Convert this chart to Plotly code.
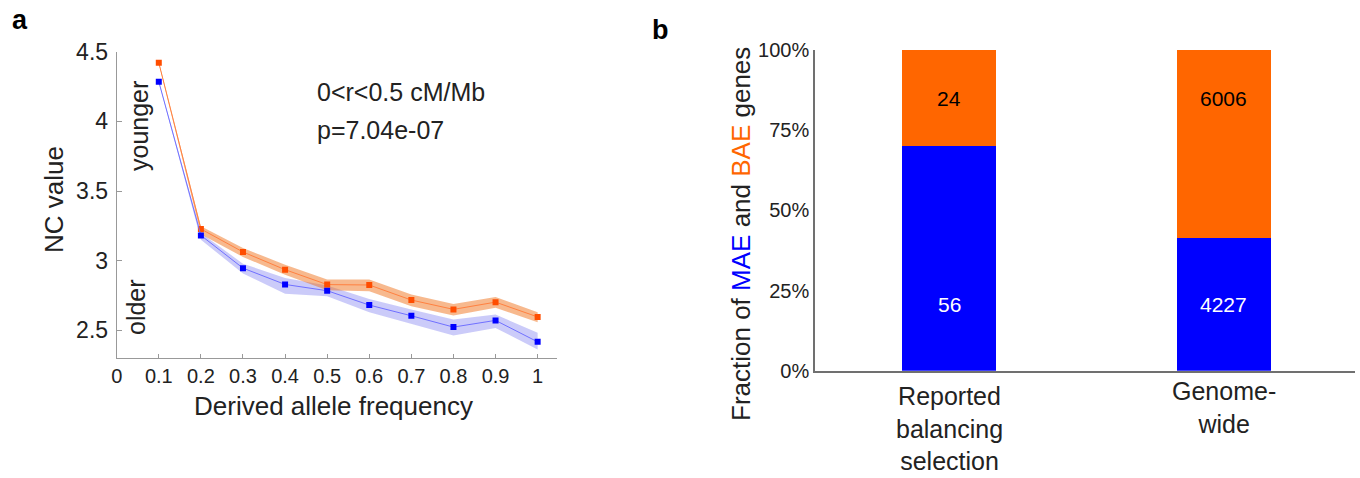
import plotly.graph_objects as go

# ---------------- data: panel a ----------------
daf = [0.1, 0.2, 0.3, 0.4, 0.5, 0.6, 0.7, 0.8, 0.9, 1.0]
bae_mean = [4.421, 3.228, 3.063, 2.936, 2.829, 2.826, 2.718, 2.651, 2.703, 2.597]
bae_lower = [4.415, 3.190, 3.027, 2.900, 2.788, 2.781, 2.674, 2.607, 2.662, 2.559]
bae_upper = [4.427, 3.247, 3.091, 2.972, 2.865, 2.865, 2.757, 2.690, 2.740, 2.631]
mae_mean = [4.285, 3.182, 2.947, 2.830, 2.785, 2.682, 2.605, 2.524, 2.572, 2.418]
mae_lower = [4.280, 3.151, 2.908, 2.764, 2.745, 2.631, 2.549, 2.463, 2.518, 2.363]
mae_upper = [4.290, 3.199, 2.979, 2.877, 2.822, 2.726, 2.650, 2.578, 2.614, 2.483]
xa_ticks = [0, 0.1, 0.2, 0.3, 0.4, 0.5, 0.6, 0.7, 0.8, 0.9, 1.0]
xa_ticktext = ["0", "0.1", "0.2", "0.3", "0.4", "0.5", "0.6", "0.7", "0.8", "0.9", "1"]
ya_ticks = [2.5, 3, 3.5, 4, 4.5]
ya_ticktext = ["2.5", "3", "3.5", "4", "4.5"]

# ---------------- data: panel b ----------------
groups = ["Reported balancing selection", "Genome-wide"]
group_labels = ["Reported<br>balancing<br>selection", "Genome-<br>wide"]
mae_counts = [56, 4227]
bae_counts = [24, 6006]
yb_ticks = [0, 0.25, 0.5, 0.75, 1.0]
yb_ticktext = ["0%", "25%", "50%", "75%", "100%"]

W, H = 1360, 478
def px(x):
    return x / W
def py(y):
    return (H - y) / H

BLUE = "#0000ff"
ORANGE = "#ff6600"
FONT = "Arial, Liberation Sans, sans-serif"
AXC = "#999999"
AXC2 = "#707070"
TXT = "#222222"

fig = go.Figure()

# bands
fig.add_trace(go.Scatter(x=daf + daf[::-1], y=mae_upper + mae_lower[::-1], fill="toself",
                         fillcolor="rgba(70,70,235,0.28)", line=dict(width=0),
                         mode="lines", hoverinfo="skip", showlegend=False,
                         xaxis="x", yaxis="y"))
fig.add_trace(go.Scatter(x=daf + daf[::-1], y=bae_upper + bae_lower[::-1], fill="toself",
                         fillcolor="rgba(240,115,30,0.5)", line=dict(width=0),
                         mode="lines", hoverinfo="skip", showlegend=False,
                         xaxis="x", yaxis="y"))
# lines + markers
fig.add_trace(go.Scatter(x=daf, y=bae_mean, mode="lines+markers", name="BAE",
                         line=dict(color="#ff8040", width=1),
                         marker=dict(symbol="square", size=6, color="#ff4d00"),
                         showlegend=False, xaxis="x", yaxis="y"))
fig.add_trace(go.Scatter(x=daf, y=mae_mean, mode="lines+markers", name="MAE",
                         line=dict(color="#7070ff", width=1),
                         marker=dict(symbol="square", size=6, color=BLUE),
                         showlegend=False, xaxis="x", yaxis="y"))

# panel b stacked bars as fractions
tot = [m + b for m, b in zip(mae_counts, bae_counts)]
mae_frac = [m / t for m, t in zip(mae_counts, tot)]
bae_frac = [b / t for b, t in zip(bae_counts, tot)]
fig.add_trace(go.Bar(x=groups, y=mae_frac, marker=dict(color=BLUE, line=dict(width=0)),
                     width=0.34, showlegend=False, xaxis="x2", yaxis="y2"))
fig.add_trace(go.Bar(x=groups, y=bae_frac, marker=dict(color=ORANGE, line=dict(width=0)),
                     width=0.34, showlegend=False, xaxis="x2", yaxis="y2"))

C = dict(xanchor="center", yanchor="middle", showarrow=False)
annotations = []
for g, m, b in zip(groups, mae_counts, bae_counts):
    annotations.append(dict(x=g, y=0.206, xref="x2", yref="y2", text=str(m), **C,
                            font=dict(family=FONT, size=21, color="white")))
    annotations.append(dict(x=g, y=0.849, xref="x2", yref="y2", text=str(b), **C,
                            font=dict(family=FONT, size=21, color="black")))
# category labels
annotations.append(dict(x=groups[0], y=py(428), xref="x2", yref="paper", text=group_labels[0],
                        align="center", **C, font=dict(family=FONT, size=25, color=TXT)))
annotations.append(dict(x=groups[1], y=py(407), xref="x2", yref="paper", text=group_labels[1],
                        align="center", **C, font=dict(family=FONT, size=25, color=TXT)))
# panel b y title
annotations.append(dict(x=px(741), y=py(234), xref="paper", yref="paper", textangle=-90,
                        text="Fraction of <span style='color:#0000ff'>MAE</span> and "
                             "<span style='color:#ff6600'>BAE</span> genes",
                        **C, font=dict(family=FONT, size=26, color=TXT)))
# panel a texts
annotations += [
    dict(x=px(54), y=py(200), xref="paper", yref="paper", textangle=-90, text="NC value",
         **C, font=dict(family=FONT, size=26, color=TXT)),
    dict(x=px(139), y=py(126), xref="paper", yref="paper", textangle=-90, text="younger",
         **C, font=dict(family=FONT, size=25, color=TXT)),
    dict(x=px(136), y=py(307), xref="paper", yref="paper", textangle=-90, text="older",
         **C, font=dict(family=FONT, size=25, color=TXT)),
    dict(x=px(333), y=py(406), xref="paper", yref="paper", text="Derived allele frequency",
         **C, font=dict(family=FONT, size=26, color=TXT)),
    dict(x=px(315), y=py(92), xref="paper", yref="paper", xanchor="left", yanchor="middle",
         showarrow=False, text="0&lt;r&lt;0.5 cM/Mb", font=dict(family=FONT, size=25, color=TXT)),
    dict(x=px(315), y=py(130), xref="paper", yref="paper", xanchor="left", yanchor="middle",
         showarrow=False, text="p=7.04e-07", font=dict(family=FONT, size=25, color=TXT)),
    dict(x=px(20), y=py(20), xref="paper", yref="paper", text="<b>a</b>",
         **C, font=dict(family=FONT, size=27, color="black")),
    dict(x=px(660), y=py(30), xref="paper", yref="paper", text="<b>b</b>",
         **C, font=dict(family=FONT, size=27, color="black")),
]

fig.update_layout(
    width=W, height=H, margin=dict(l=0, r=0, t=0, b=0, autoexpand=False),
    paper_bgcolor="white", plot_bgcolor="white", barmode="stack",
    xaxis=dict(domain=[px(116.7), px(557)], range=[0, 1.046], tickvals=xa_ticks,
               ticktext=xa_ticktext, ticks="inside", ticklen=4, tickcolor=AXC,
               showline=True, linecolor=AXC, linewidth=1, showgrid=False, zeroline=False,
               tickfont=dict(family=FONT, size=20, color=TXT), anchor="y",
               automargin=False),
    yaxis=dict(domain=[py(358.3), py(51.7)], range=[2.3, 4.5], tickvals=ya_ticks,
               ticktext=ya_ticktext, ticks="inside", ticklen=5, tickcolor=AXC,
               showline=True, linecolor=AXC, linewidth=1, showgrid=False, zeroline=False,
               tickfont=dict(family=FONT, size=23, color=TXT), anchor="x",
               ticklabelstandoff=3, automargin=False),
    xaxis2=dict(domain=[px(815), px(1355)], range=[-0.488, 1.477], showticklabels=False,
                ticks="", showline=True, linecolor=AXC2, linewidth=1.5, showgrid=False,
                zeroline=False, anchor="y2", automargin=False),
    yaxis2=dict(domain=[py(370.7), py(50)], range=[0, 1.0], tickvals=yb_ticks,
                ticktext=yb_ticktext, ticks="", showline=True, linecolor=AXC2, linewidth=1.5,
                showgrid=False, zeroline=False,
                tickfont=dict(family=FONT, size=20, color=TXT), anchor="x2",
                automargin=False),
    annotations=annotations,
)

fig.write_html("out.html", config={"displayModeBar": False},
               post_script="document.body.style.margin='0';"
                           "document.documentElement.style.overflow='hidden';")
